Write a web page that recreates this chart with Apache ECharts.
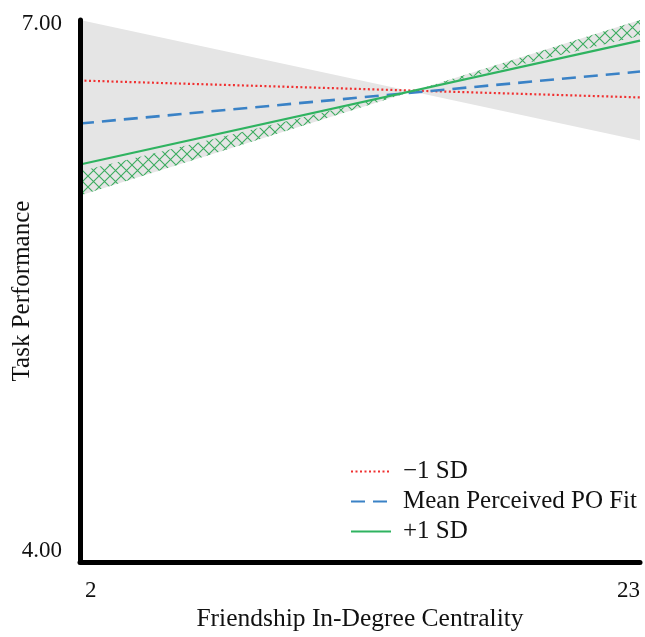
<!DOCTYPE html>
<html>
<head>
<meta charset="utf-8">
<script src="https://cdn.jsdelivr.net/npm/echarts@6/dist/echarts.min.js"></script>
<style>
  html, body { margin: 0; padding: 0; background: #fff; }
  #chart { width: 645px; height: 637px; }
</style>
</head>
<body>
<div id="chart"></div>
<script>
// end points of the simple slopes (x = friendship in-degree centrality)
var xEnds = [2, 23];
var minusSD = [6.676, 6.580];
var meanFit = [6.432, 6.727];
var plusSD = [6.199, 6.903];
// grey confidence region edges (they cross, giving a bowtie)
var bandA = [7.02, 6.335];
var bandB = [6.023, 7.02];
// inner edge of the hatched band for +1 SD
var hatchEdge = [6.16, 6.93];
var xTicks = [2, 23];
var yTicks = [4, 7];
var legendNames = ['\u22121 SD', 'Mean Perceived PO Fit', '+1 SD'];

function pts(arr) {
    return xEnds.map(function (x, i) { return [x, arr[i]]; });
}

// cross-hatch tile for the +1 SD band
var tile = document.createElement('canvas');
tile.width = 11; tile.height = 11;
var tc = tile.getContext('2d');
tc.strokeStyle = 'rgba(40,165,80,0.9)';
tc.lineWidth = 1.1;
tc.beginPath();
tc.moveTo(0, 0); tc.lineTo(11, 11);
tc.moveTo(11, 0); tc.lineTo(0, 11);
tc.stroke();

function bowtie(edge1, edge2, style) {
    return function (params, api) {
        var p = [
            api.coord([xEnds[0], edge1[0]]),
            api.coord([xEnds[1], edge1[1]]),
            api.coord([xEnds[1], edge2[1]]),
            api.coord([xEnds[0], edge2[0]])
        ];
        return { type: 'polygon', shape: { points: p }, style: style };
    };
}

var chart = echarts.init(document.getElementById('chart'));
var font = '"Liberation Serif", "Times New Roman", serif';

var option = {
    animation: false,
    grid: { left: 80, right: 5, top: 20, bottom: 75, outerBoundsMode: 'none', containLabel: false },
    legend: {
        data: legendNames,
        orient: 'vertical',
        left: 345,
        top: 454,
        itemWidth: 40,
        itemHeight: 14,
        itemGap: 5,
        itemStyle: { opacity: 0 },
        textStyle: { fontFamily: font, fontSize: 25, color: '#111', padding: [0, 0, 0, 7] }
    },
    xAxis: {
        type: 'value',
        min: 2,
        max: 23,
        z: 10,
        name: 'Friendship In-Degree Centrality',
        nameLocation: 'middle',
        nameGap: 44,
        nameMoveOverlap: false,
        nameTextStyle: { fontFamily: font, fontSize: 25.5, color: '#111' },
        axisLine: { lineStyle: { color: '#000', width: 5 } },
        axisTick: { show: false },
        splitLine: { show: false },
        axisLabel: {
            customValues: xTicks,
            margin: 17,
            alignMinLabel: 'left',
            alignMaxLabel: 'right',
            formatter: function (v) { return v === xTicks[0] ? '{a|' + v + '}' : '' + v; },
            rich: { a: { padding: [0, 0, 0, 5], fontFamily: font, fontSize: 23, color: '#111' } },
            fontFamily: font, fontSize: 23, color: '#111'
        }
    },
    yAxis: {
        type: 'value',
        min: 3.94,
        max: 7.02,
        z: 10,
        name: 'Task Performance',
        nameLocation: 'middle',
        nameGap: 45,
        nameMoveOverlap: false,
        nameTextStyle: { fontFamily: font, fontSize: 25, color: '#111' },
        axisLine: { show: true, lineStyle: { color: '#000', width: 5 } },
        axisTick: { show: false },
        splitLine: { show: false },
        axisLabel: {
            customValues: yTicks,
            margin: 18,
            formatter: function (v) { return v.toFixed(2); },
            fontFamily: font, fontSize: 23, color: '#111'
        }
    },
    series: [
        {
            type: 'custom',
            silent: true,
            data: [0],
            renderItem: bowtie(bandA, bandB, { fill: '#e5e5e5' })
        },
        {
            type: 'custom',
            silent: true,
            data: [0],
            renderItem: bowtie(hatchEdge, bandB, { fill: { image: tile, repeat: 'repeat' } })
        },
        {
            name: legendNames[0],
            type: 'line',
            data: pts(minusSD),
            symbol: 'none',
            lineStyle: { color: '#f03030', width: 2.2, type: [2, 2.5] },
            itemStyle: { color: '#f03030' }
        },
        {
            name: legendNames[1],
            type: 'line',
            data: pts(meanFit),
            symbol: 'none',
            lineStyle: { color: '#3a82c6', width: 2.6, type: [14, 8] },
            itemStyle: { color: '#3a82c6' }
        },
        {
            name: legendNames[2],
            type: 'line',
            data: pts(plusSD),
            symbol: 'none',
            lineStyle: { color: '#2fb360', width: 2.2 },
            itemStyle: { color: '#2fb360' }
        }
    ]
};
chart.setOption(option);
</script>
</body>
</html>
